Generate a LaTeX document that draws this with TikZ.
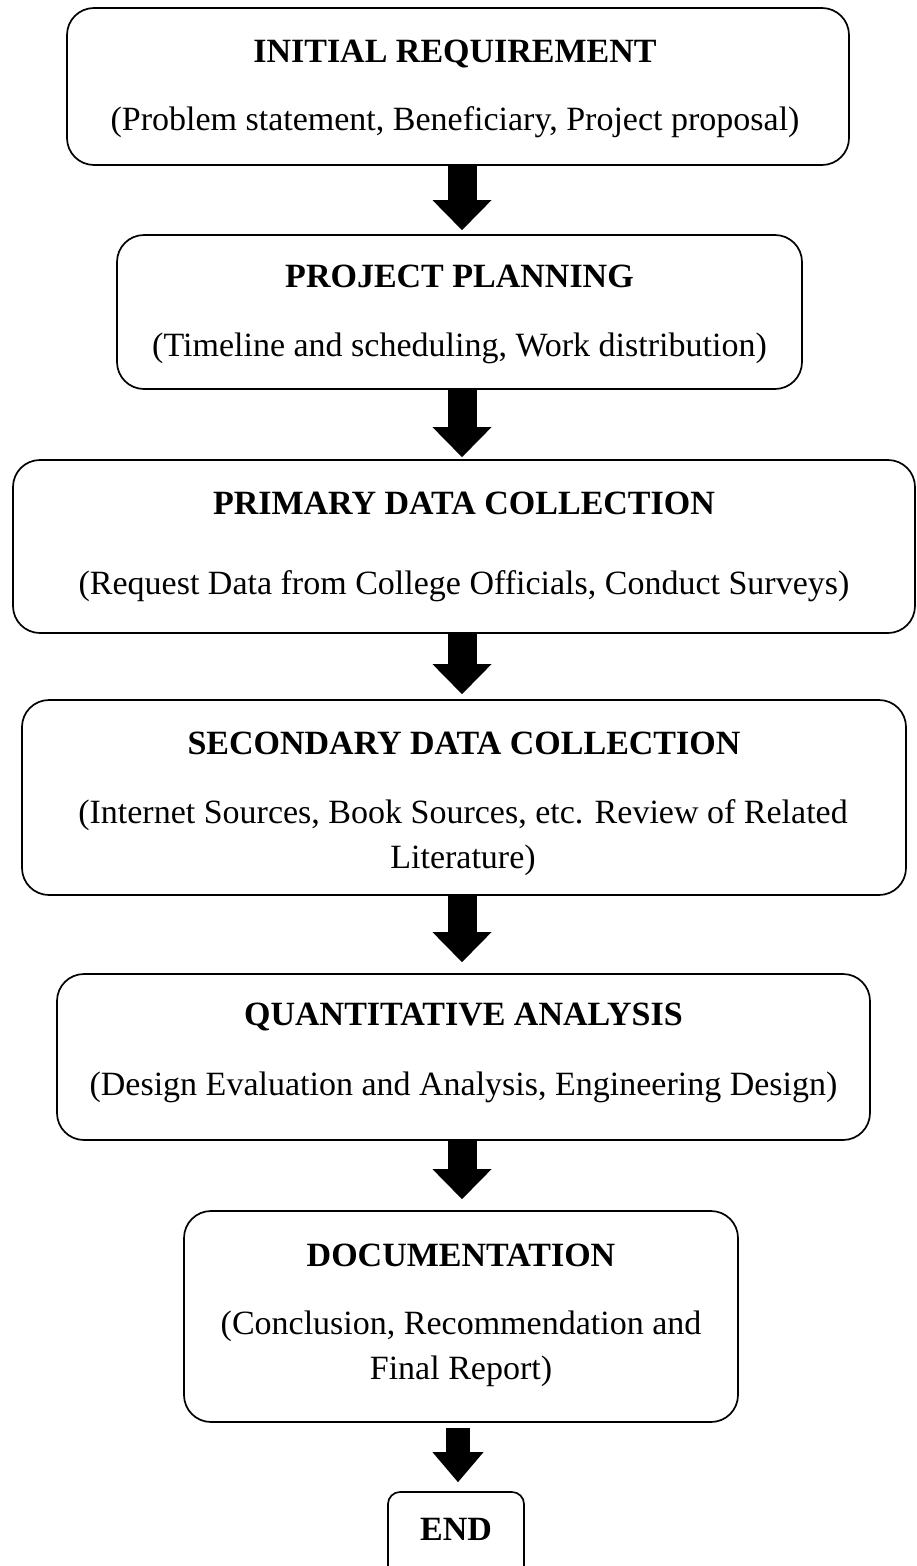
\documentclass[tikz,border=0pt]{standalone}
\usepackage{fontspec}
\setmainfont{Liberation Serif}
\usetikzlibrary{arrows.meta}
\begin{document}
\begin{tikzpicture}[x=1pt,y=-1pt,
  box/.style={draw, line width=1.7pt, rounded corners=27pt, inner sep=0pt},
  endbox/.style={draw, line width=1.7pt, rounded corners=12pt, inner sep=0pt},
  ttl/.style={anchor=base, inner sep=0pt, font=\fontsize{34}{45}\selectfont\bfseries},
  sub/.style={anchor=base, inner sep=0pt, font=\fontsize{34}{45}\selectfont},
  blk/.style={line width=29pt, -{Triangle[length=30pt,width=59pt,line width=0pt]}},
  blksmall/.style={line width=24pt, -{Triangle[length=30pt,width=51pt,line width=0pt]}}]
\clip (0,0) rectangle (917,1566);
\fill[white] (0,0) rectangle (917,1566);
% axes for arrows
\coordinate (ax) at (462,0);
\coordinate (axe) at (458,0);
% boxes
\node[box, minimum width=782pt, minimum height=157pt] (b1) at (458,86.5) {};
\node[box, minimum width=685pt, minimum height=154pt] (b2) at (459.5,312) {};
\node[box, minimum width=902pt, minimum height=173pt] (b3) at (464,546.5) {};
\node[box, minimum width=884pt, minimum height=195pt] (b4) at (464,797.5) {};
\node[box, minimum width=813pt, minimum height=166pt] (b5) at (463.5,1057) {};
\node[box, minimum width=554pt, minimum height=211pt] (b6) at (461,1316.5) {};
\node[endbox, minimum width=136pt, minimum height=90pt] (b7) at (456,1537) {};
% texts
\node[ttl] (t1) at (455,62) {INITIAL REQUIREMENT};
\node[sub] (s1) at (455,130) {(Problem statement, Beneficiary, Project proposal)};
\node[ttl] (t2) at (459.5,287) {PROJECT PLANNING};
\node[sub] (s2) at (459.5,356) {(Timeline and scheduling, Work distribution)};
\node[ttl] (t3) at (464,514) {PRIMARY DATA COLLECTION};
\node[sub] (s3) at (464,594) {(Request Data from College Officials, Conduct Surveys)};
\node[ttl] (t4) at (464,754) {SECONDARY DATA COLLECTION};
\node[sub] (s4a) at (463,823) {(Internet Sources, Book Sources, etc. Review of Related};
\node[sub] (s4b) at (463,868) {Literature)};
\node[ttl] (t5) at (463.5,1025) {QUANTITATIVE ANALYSIS};
\node[sub] (s5) at (463.5,1095) {(Design Evaluation and Analysis, Engineering Design)};
\node[ttl] (t6) at (461,1266) {DOCUMENTATION};
\node[sub] (s6a) at (461,1334) {(Conclusion, Recommendation and};
\node[sub] (s6b) at (461,1379) {Final Report)};
\node[ttl] (t7) at (456,1540) {END};
% arrows
\draw[blk, shorten >=4pt] (b1.south -| ax) -- (b2.north -| ax);
\draw[blk, shorten >=2pt] (b2.south -| ax) -- (b3.north -| ax);
\draw[blk, shorten >=5pt] (b3.south -| ax) -- (b4.north -| ax);
\draw[blk, shorten >=11pt] (b4.south -| ax) -- (b5.north -| ax);
\draw[blk, shorten >=11pt] (b5.south -| ax) -- (b6.north -| ax);
\draw[blksmall, shorten <=5pt, shorten >=9pt] (b6.south -| axe) -- (b7.north -| axe);
\end{tikzpicture}
\end{document}
